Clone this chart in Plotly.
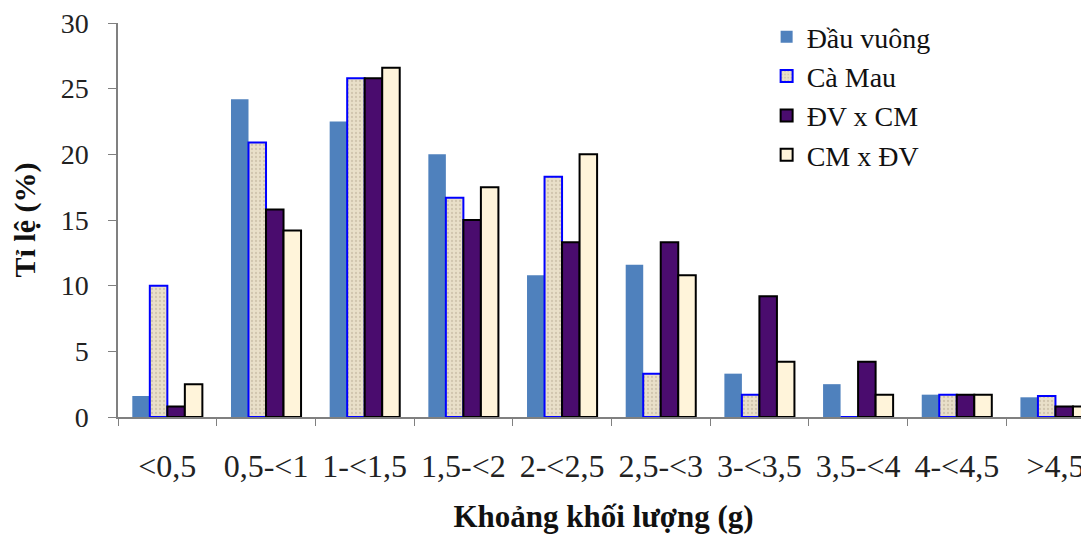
import plotly.graph_objects as go

categories = ["<0,5", "0,5-<1", "1-<1,5", "1,5-<2", "2-<2,5", "2,5-<3",
              "3-<3,5", "3,5-<4", "4-<4,5", ">4,5"]
dau_vuong = [1.6, 24.2, 22.5, 20.0, 10.8, 11.6, 3.3, 2.5, 1.7, 1.5]
ca_mau = [10.0, 20.9, 25.8, 16.7, 18.3, 3.3, 1.7, 0.0, 1.7, 1.6]
dv_x_cm = [0.8, 15.8, 25.8, 15.0, 13.3, 13.3, 9.2, 4.2, 1.7, 0.8]
cm_x_dv = [2.5, 14.2, 26.6, 17.5, 20.0, 10.8, 4.2, 1.7, 1.7, 0.8]
y_ticks = [0, 5, 10, 15, 20, 25, 30]

fig = go.Figure()
fig.add_trace(go.Bar(name="Đầu vuông", x=categories, y=dau_vuong,
                     marker=dict(color="#4F81BD", line=dict(width=0))))
fig.add_trace(go.Bar(name="Cà Mau", x=categories, y=ca_mau,
                     marker=dict(color="#E9DFC9",
                                 line=dict(color="#0000FF", width=2),
                                 pattern=dict(shape=".", fgcolor="#B5AA92",
                                              bgcolor="#E9DFC9", size=4, solidity=0.25))))
fig.add_trace(go.Bar(name="ĐV x CM", x=categories, y=dv_x_cm,
                     marker=dict(color="#4A0C6E", line=dict(color="#000000", width=2))))
fig.add_trace(go.Bar(name="CM x ĐV", x=categories, y=cm_x_dv,
                     marker=dict(color="#FFF4DA", line=dict(color="#000000", width=2))))

fig.update_layout(
    width=1081, height=528,
    margin=dict(l=110, r=0, t=15, b=119, autoexpand=False),
    paper_bgcolor="white", plot_bgcolor="white",
    barmode="group", bargap=0.29, bargroupgap=0,
    font=dict(family="Liberation Serif", color="#111111", size=28),
    legend=dict(x=0.668, y=1.028, xanchor="left", yanchor="top",
                font=dict(size=28, family="Liberation Serif", color="#111111"),
                bgcolor="rgba(0,0,0,0)", tracegroupgap=0, itemwidth=30),
    xaxis=dict(range=[-0.5, 9.34], showline=True, linecolor="#808080", linewidth=1.5,
               ticks="outside", tickson="boundaries", ticklen=7, tickcolor="#808080",
               tickfont=dict(size=32, color="#222222"), ticklabelstandoff=20,
               ticklabeloverflow="allow",
               showgrid=False, zeroline=False, automargin=False,
               title=dict(text="<b>Khoảng khối lượng (g)</b>",
                          font=dict(size=31, color="#111111"), standoff=22)),
    yaxis=dict(range=[0, 30], tickvals=y_ticks, showline=True, linecolor="#808080",
               linewidth=1.5, ticks="outside", ticklen=8, tickcolor="#808080",
               tickfont=dict(size=28, color="#222222"), ticklabelstandoff=14,
               ticklabeloverflow="allow",
               showgrid=False, zeroline=False, automargin=False,
               title=dict(text="<b>Tỉ lệ (%)</b>", font=dict(size=30, color="#111111"),
                          standoff=18)),
)

fig.write_html("out.html")
